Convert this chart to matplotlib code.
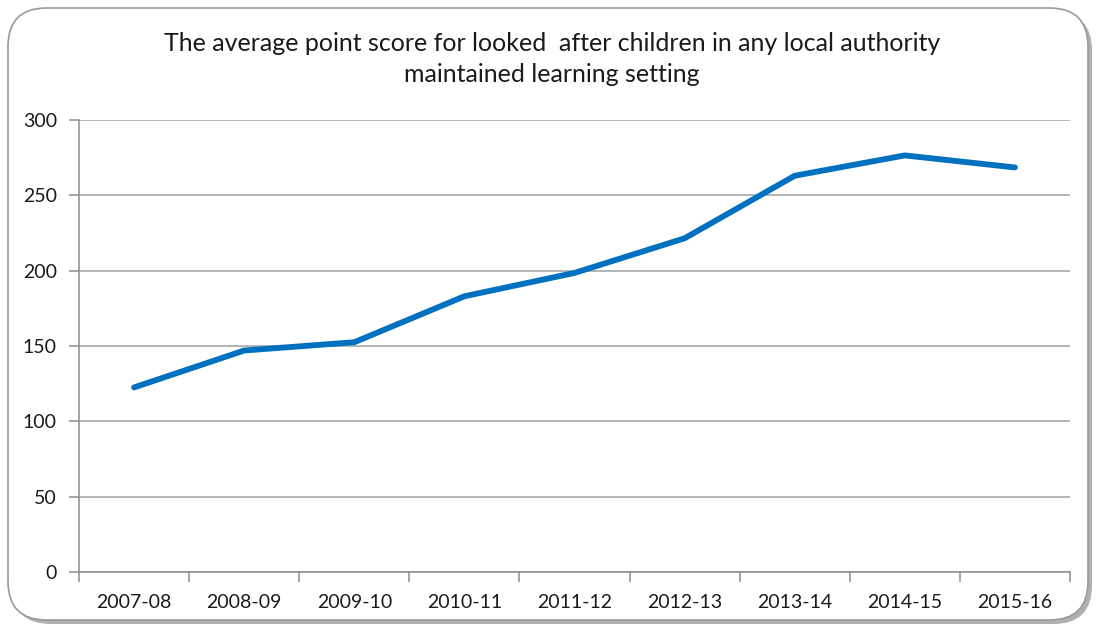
import matplotlib
matplotlib.use("Agg")
import matplotlib.pyplot as plt
from matplotlib.patches import FancyBboxPatch
import numpy as np

years = ["2007-08", "2008-09", "2009-10", "2010-11", "2011-12",
         "2012-13", "2013-14", "2014-15", "2015-16"]
avg_points = [122.5, 147, 152.5, 183, 198.5, 221.5, 263, 276.5, 268.5]

plt.rcParams['font.family'] = ['Lato', 'DejaVu Sans']

fig = plt.figure(figsize=(11.02, 6.28), dpi=100)

# shadowed rounded frame around the chart area
shadow = FancyBboxPatch((12 / 1102, 4 / 628), 1080 / 1102, 612 / 628,
                        boxstyle="round,pad=0,rounding_size=0.035",
                        transform=fig.transFigure, facecolor="#b0b0b0",
                        edgecolor="none", mutation_aspect=1102 / 628,
                        zorder=0)
frame = FancyBboxPatch((8 / 1102, 8 / 628), 1080 / 1102, 612 / 628,
                       boxstyle="round,pad=0,rounding_size=0.035",
                       transform=fig.transFigure, facecolor="white",
                       edgecolor="#9a9a9a", linewidth=1.2,
                       mutation_aspect=1102 / 628, zorder=1)
fig.patches.extend([shadow, frame])

ax = fig.add_axes([79 / 1102, 1 - 572 / 628, 991 / 1102, 452 / 628])
ax.set_zorder(2)
ax.patch.set_alpha(0)

x = np.arange(len(years))
ax.plot(x, avg_points, color="#0070C0", linewidth=4.2,
        solid_capstyle="round", solid_joinstyle="round", zorder=3)

ax.set_xlim(-0.5, len(years) - 0.5)
ax.set_ylim(0, 300)
ax.set_yticks(np.arange(0, 301, 50))
ax.yaxis.grid(True, color="#a0a0a0", linewidth=1.1)
ax.set_axisbelow(True)

ax.set_xticks(x)
ax.set_xticklabels(years)
ax.set_xticks(np.arange(-0.5, len(years)), minor=True)
ax.tick_params(axis="x", which="major", length=0, pad=16, labelsize=14,
               labelcolor="#1a1a1a")
ax.tick_params(axis="x", which="minor", length=7, color="#8c8c8c", width=1.1)
ax.tick_params(axis="y", length=7, color="#8c8c8c", width=1.1, pad=9,
               labelsize=14, labelcolor="#1a1a1a")

for side in ("top", "right"):
    ax.spines[side].set_visible(False)
for side in ("left", "bottom"):
    ax.spines[side].set_color("#8c8c8c")
    ax.spines[side].set_linewidth(1.1)

fig.text(552 / 1102, 1 - 59 / 628,
         "The average point score for looked  after children in any local authority\n"
         "maintained learning setting",
         ha="center", va="center", fontsize=18, color="#1a1a1a",
         linespacing=1.45)

fig.savefig("out.png", dpi=100)
